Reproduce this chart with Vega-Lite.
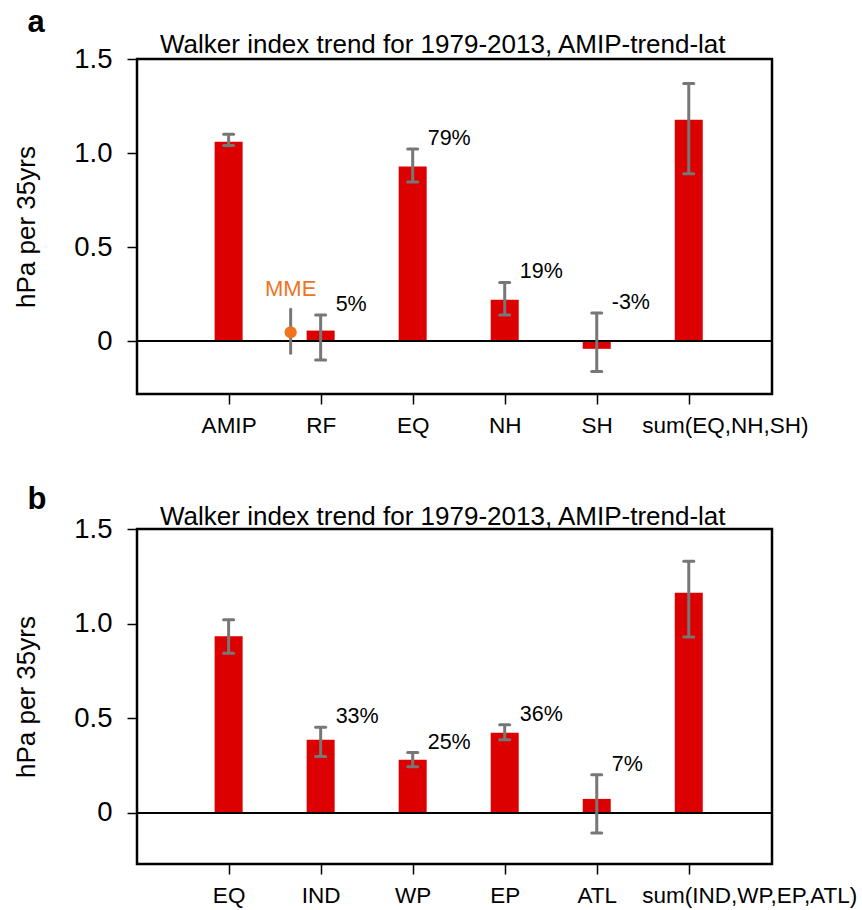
{
  "$schema": "https://vega.github.io/schema/vega-lite/v6.json",
  "background": "white",
  "padding": {"left": 12, "top": 6, "right": 5, "bottom": 0},
  "spacing": 45,
  "config": {
    "font": "Liberation Sans",
    "view": {"stroke": "black", "strokeWidth": 2.5},
    "axis": {"grid": false, "domain": false, "tickColor": "black", "tickWidth": 1.5, "tickSize": 10, "labelColor": "black", "titleColor": "black"},
    "axisX": {
      "labelFontSize": 22.5, "labelPadding": 10, "labelAngle": 0, "title": null, "labelOverlap": false, "labelBound": false, "labelLimit": 400,
      "labelAlign": {"condition": {"test": "indexof(datum.label, 'sum') == 0", "value": "left"}, "value": "center"},
      "labelOffset": {"condition": {"test": "indexof(datum.label, 'sum') == 0", "value": -47}, "value": 0}
    },
    "axisY": {"labelFontSize": 27.5, "labelPadding": 15, "titleFontSize": 26, "titleFontWeight": "normal", "titlePadding": 34},
    "title": {"color": "black"}
  },
  "datasets": {
    "a": [
      {"name": "AMIP", "value": 1.06, "lo": 1.04, "hi": 1.10, "pct": ""},
      {"name": "RF", "value": 0.057, "lo": -0.10, "hi": 0.14, "pct": "5%"},
      {"name": "EQ", "value": 0.929, "lo": 0.846, "hi": 1.022, "pct": "79%"},
      {"name": "NH", "value": 0.221, "lo": 0.14, "hi": 0.313, "pct": "19%"},
      {"name": "SH", "value": -0.04, "lo": -0.16, "hi": 0.15, "pct": "-3%"},
      {"name": "sum(EQ,NH,SH)", "value": 1.177, "lo": 0.89, "hi": 1.37, "pct": ""}
    ],
    "mme": [
      {"name": "RF", "value": 0.048, "lo": -0.064, "hi": 0.17, "label": "MME"}
    ],
    "b": [
      {"name": "EQ", "value": 0.933, "lo": 0.843, "hi": 1.02, "pct": ""},
      {"name": "IND", "value": 0.386, "lo": 0.298, "hi": 0.452, "pct": "33%"},
      {"name": "WP", "value": 0.281, "lo": 0.244, "hi": 0.319, "pct": "25%"},
      {"name": "EP", "value": 0.424, "lo": 0.386, "hi": 0.466, "pct": "36%"},
      {"name": "ATL", "value": 0.074, "lo": -0.106, "hi": 0.201, "pct": "7%"},
      {"name": "sum(IND,WP,EP,ATL)", "value": 1.163, "lo": 0.93, "hi": 1.329, "pct": ""}
    ]
  },
  "vconcat": [
    {
      "title": {"text": "a", "anchor": "start", "frame": "bounds", "fontSize": 31, "fontWeight": "bold", "dx": 15, "offset": -8},
      "vconcat": [
        {
          "width": 635,
          "height": 335,
          "title": {"text": "Walker index trend for 1979-2013, AMIP-trend-lat", "anchor": "start", "frame": "group", "dx": 23, "offset": -13, "fontSize": 26, "fontWeight": "normal"},
          "data": {"name": "a"},
          "layer": [
            {
              "mark": {"type": "bar", "color": "#dd0000", "size": 28},
              "encoding": {
                "x": {"field": "name", "type": "nominal", "sort": null, "scale": {"type": "point", "padding": 0.95, "align": 0.524}},
                "y": {"field": "value", "type": "quantitative", "scale": {"domain": [-0.28, 1.5], "nice": false, "zero": false}, "axis": {"values": [0, 0.5, 1, 1.5], "labelExpr": "datum.value == 0 ? '0' : format(datum.value, '.1f')", "title": "hPa per 35yrs"}},
                "y2": {"datum": 0}
              }
            },
            {
              "mark": {"type": "rule", "color": "black", "strokeWidth": 1.5},
              "encoding": {"y": {"datum": 0}}
            },
            {
              "mark": {"type": "rule", "color": "#777777", "strokeWidth": 3},
              "encoding": {
                "x": {"field": "name", "type": "nominal", "sort": null},
                "y": {"field": "lo", "type": "quantitative"},
                "y2": {"field": "hi"}
              }
            },
            {
              "mark": {"type": "rule", "color": "#777777", "strokeWidth": 3, "strokeCap": "round", "xOffset": -5, "x2Offset": 5},
              "encoding": {
                "x": {"field": "name", "type": "nominal", "sort": null},
                "x2": {"field": "name"},
                "y": {"field": "lo", "type": "quantitative"}
              }
            },
            {
              "mark": {"type": "rule", "color": "#777777", "strokeWidth": 3, "strokeCap": "round", "xOffset": -5, "x2Offset": 5},
              "encoding": {
                "x": {"field": "name", "type": "nominal", "sort": null},
                "x2": {"field": "name"},
                "y": {"field": "hi", "type": "quantitative"}
              }
            },
            {
              "mark": {"type": "text", "align": "left", "baseline": "alphabetic", "dx": 15, "dy": -4, "fontSize": 21.5, "color": "black"},
              "encoding": {
                "x": {"field": "name", "type": "nominal", "sort": null},
                "y": {"field": "hi", "type": "quantitative"},
                "text": {"field": "pct"}
              }
            },
            {
              "data": {"name": "mme"},
              "mark": {"type": "rule", "color": "#777777", "strokeWidth": 3, "strokeCap": "round", "xOffset": -30},
              "encoding": {
                "x": {"field": "name", "type": "nominal", "sort": null},
                "y": {"field": "lo", "type": "quantitative"},
                "y2": {"field": "hi"}
              }
            },
            {
              "data": {"name": "mme"},
              "mark": {"type": "point", "filled": true, "opacity": 1, "color": "#f07320", "size": 150, "xOffset": -30},
              "encoding": {
                "x": {"field": "name", "type": "nominal", "sort": null},
                "y": {"field": "value", "type": "quantitative"}
              }
            },
            {
              "data": {"name": "mme"},
              "mark": {"type": "text", "align": "center", "baseline": "alphabetic", "dx": -30, "dy": -13, "fontSize": 22, "color": "#f07320"},
              "encoding": {
                "x": {"field": "name", "type": "nominal", "sort": null},
                "y": {"field": "hi", "type": "quantitative"},
                "text": {"field": "label"}
              }
            }
          ]
        }
      ]
    },
    {
      "title": {"text": "b", "anchor": "start", "frame": "bounds", "fontSize": 31, "fontWeight": "bold", "dx": 15, "dy": -2, "offset": -15},
      "vconcat": [
        {
          "width": 635,
          "height": 335,
          "title": {"text": "Walker index trend for 1979-2013, AMIP-trend-lat", "anchor": "start", "frame": "group", "dx": 23, "offset": -15, "fontSize": 26, "fontWeight": "normal"},
          "data": {"name": "b"},
          "layer": [
            {
              "mark": {"type": "bar", "color": "#dd0000", "size": 28},
              "encoding": {
                "x": {"field": "name", "type": "nominal", "sort": null, "scale": {"type": "point", "padding": 0.95, "align": 0.524}},
                "y": {"field": "value", "type": "quantitative", "scale": {"domain": [-0.27, 1.5], "nice": false, "zero": false}, "axis": {"values": [0, 0.5, 1, 1.5], "labelExpr": "datum.value == 0 ? '0' : format(datum.value, '.1f')", "title": "hPa per 35yrs"}},
                "y2": {"datum": 0}
              }
            },
            {
              "mark": {"type": "rule", "color": "black", "strokeWidth": 1.5},
              "encoding": {"y": {"datum": 0}}
            },
            {
              "mark": {"type": "rule", "color": "#777777", "strokeWidth": 3},
              "encoding": {
                "x": {"field": "name", "type": "nominal", "sort": null},
                "y": {"field": "lo", "type": "quantitative"},
                "y2": {"field": "hi"}
              }
            },
            {
              "mark": {"type": "rule", "color": "#777777", "strokeWidth": 3, "strokeCap": "round", "xOffset": -5, "x2Offset": 5},
              "encoding": {
                "x": {"field": "name", "type": "nominal", "sort": null},
                "x2": {"field": "name"},
                "y": {"field": "lo", "type": "quantitative"}
              }
            },
            {
              "mark": {"type": "rule", "color": "#777777", "strokeWidth": 3, "strokeCap": "round", "xOffset": -5, "x2Offset": 5},
              "encoding": {
                "x": {"field": "name", "type": "nominal", "sort": null},
                "x2": {"field": "name"},
                "y": {"field": "hi", "type": "quantitative"}
              }
            },
            {
              "mark": {"type": "text", "align": "left", "baseline": "alphabetic", "dx": 15, "dy": -4, "fontSize": 21.5, "color": "black"},
              "encoding": {
                "x": {"field": "name", "type": "nominal", "sort": null},
                "y": {"field": "hi", "type": "quantitative"},
                "text": {"field": "pct"}
              }
            }
          ]
        }
      ]
    }
  ]
}
